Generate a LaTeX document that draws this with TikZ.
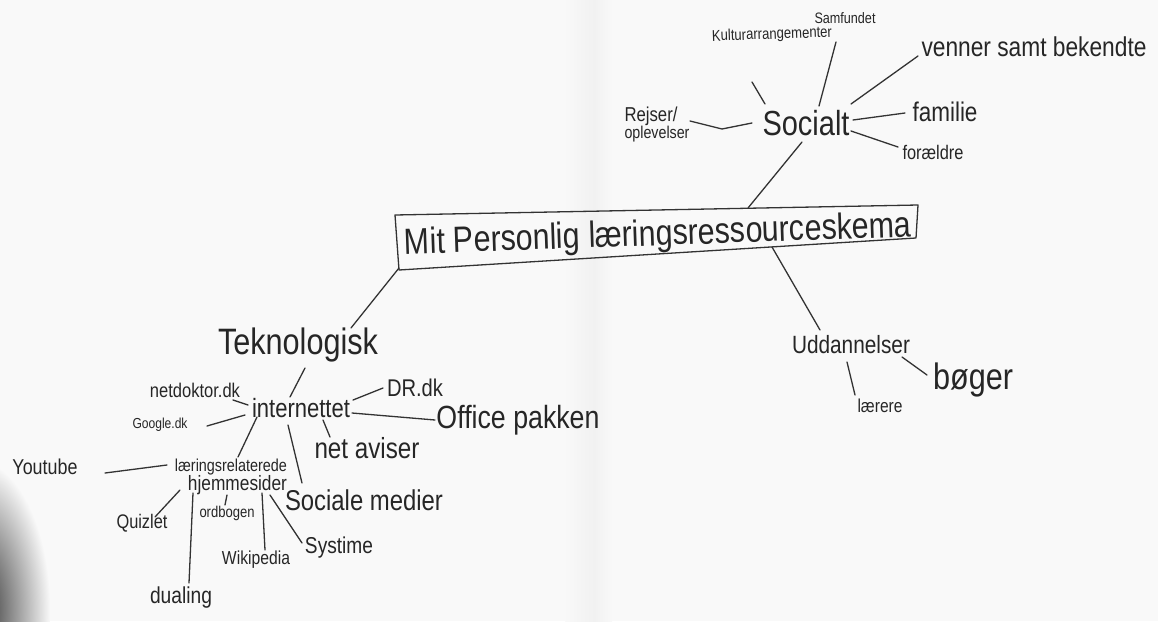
\documentclass[tikz,border=0pt]{standalone}
\usepackage{fontspec}
\setmainfont{Liberation Sans}
\usepackage{graphicx}
\newcommand\fitw[2]{\scalebox{1}[1.2]{\resizebox{#1}{!}{#2}}}
\begin{document}
\begin{tikzpicture}[x=1pt,y=-1pt,
  lbl/.style={inner sep=0pt, text=black!85},
  ln/.style={draw=black!80, line width=1.3pt, line cap=round, line join=round}]
\useasboundingbox (0,0) rectangle (1158,621);
% paper
\fill[gray!5] (0,0) rectangle (1158,621);
\shade[left color=gray!5, right color=gray!11] (565,0) rectangle (594,621);
\shade[left color=gray!11, right color=gray!5] (594,0) rectangle (612,621);
\begin{scope}
\clip (0,0) rectangle (1158,621);
\shade[inner color=black!85, outer color=gray!5] (-25,610) ellipse [x radius=75, y radius=150];
\end{scope}

% title box
\coordinate (bTL) at (395,215);
\coordinate (bTR) at (918,205);
\coordinate (bBR) at (916,238);
\coordinate (bBL) at (399,270);
\draw[ln] (bTL) -- (bTR) -- (bBR) -- (bBL) -- cycle;
\node[lbl, rotate=2] (title) at (658,236) {\fitw{507pt}{Mit Personlig læringsressourceskema}};

% social group
\node[lbl] (soc) at (806,123) {\fitw{87pt}{Socialt}};
\node[lbl, rotate=2] (kult) at (772,35) {\fitw{120pt}{Kulturarrangementer}};
\node[lbl] (samf) at (845,18) {\fitw{61pt}{Samfundet}};
\node[lbl] (venner) at (1034,47) {\fitw{225pt}{venner samt bekendte}};
\node[lbl] (fam) at (945,112) {\fitw{65pt}{familie}};
\node[lbl] (foraeldre) at (933,152) {\fitw{61pt}{forældre}};
\node[lbl, align=left, font=\fontsize{10}{17}\selectfont] (rejser) at (657,124) {\fitw{53pt}{Rejser/}\\\fitw{65pt}{oplevelser}};

\draw[ln] ([shift={(-20,47)}]kult.center) -- ([shift={(-41,-19)}]soc.center);
\draw[ln] ([shift={(-9,24)}]samf.center) -- ([shift={(13,-17)}]soc.center);
\draw[ln] ([shift={(-116,9)}]venner.center) -- ([shift={(45,-19)}]soc.center);
\draw[ln] ([shift={(-40,1)}]fam.center) -- ([shift={(47,-3)}]soc.center);
\draw[ln] ([shift={(-35,-5)}]foraeldre.center) -- ([shift={(45,8)}]soc.center);
\draw[ln] ([shift={(33,-3)}]rejser.center) -- ++(32,8) -- ([shift={(-54,0)}]soc.center);
\draw[ln] ([shift={(-4,19)}]soc.center) -- ([shift={(90,-28)}]title.center);

% technology group
\node[lbl] (tek) at (298,345) {\fitw{160pt}{Teknologisk}};
\node[lbl] (inet) at (301,408) {\fitw{98pt}{internettet}};
\node[lbl] (netdok) at (195,390) {\fitw{90pt}{netdoktor.dk}};
\node[lbl] (google) at (160,425) {\fitw{55pt}{Google.dk}};
\node[lbl] (dr) at (415,388) {\fitw{56pt}{DR.dk}};
\node[lbl] (office) at (518,420) {\fitw{163pt}{Office pakken}};
\node[lbl] (avis) at (367,448) {\fitw{105pt}{net aviser}};
\node[lbl] (socmed) at (364,500) {\fitw{158pt}{Sociale medier}};
\node[lbl, align=right, font=\fontsize{10}{16}\selectfont] (laer) at (231,477) {\fitw{112pt}{læringsrelaterede}\\\fitw{99pt}{hjemmesider}};
\node[lbl] (yt) at (45,467) {\fitw{65pt}{Youtube}};
\node[lbl] (quiz) at (142,523) {\fitw{51pt}{Quizlet}};
\node[lbl] (ord) at (227,513) {\fitw{55pt}{ordbogen}};
\node[lbl] (dual) at (181,598) {\fitw{62pt}{dualing}};
\node[lbl] (wiki) at (256,560) {\fitw{68pt}{Wikipedia}};
\node[lbl] (sys) at (339,548) {\fitw{68pt}{Systime}};

\draw[ln] ([shift={(-259,32)}]title.center) -- ([shift={(53,-17)}]tek.center);
\draw[ln] ([shift={(7,23)}]tek.center) -- ([shift={(-11,-11)}]inet.center);
\draw[ln] ([shift={(38,10)}]netdok.center) -- ([shift={(-53,-3)}]inet.center);
\draw[ln] ([shift={(47,1)}]google.center) -- ([shift={(-56,7)}]inet.center);
\draw[ln] ([shift={(52,-8)}]inet.center) -- ([shift={(-32,0)}]dr.center);
\draw[ln] ([shift={(51,5)}]inet.center) -- ([shift={(-83,0)}]office.center);
\draw[ln] ([shift={(22,12)}]inet.center) -- ([shift={(-37,-11)}]avis.center);
\draw[ln] ([shift={(-13,17)}]inet.center) -- ([shift={(-62,-17)}]socmed.center);
\draw[ln] ([shift={(-44,9)}]inet.center) -- ([shift={(7,-20)}]laer.center);
\draw[ln] ([shift={(60,6)}]yt.center) -- ([shift={(-64,-12)}]laer.center);
\draw[ln] ([shift={(-51,13)}]laer.center) -- ([shift={(13,-6)}]quiz.center);
\draw[ln] ([shift={(-4,18)}]laer.center) -- ([shift={(-2,-8)}]ord.center);
\draw[ln] ([shift={(-38,16)}]laer.center) -- ([shift={(8,-15)}]dual.center);
\draw[ln] ([shift={(31,16)}]laer.center) -- ([shift={(9,-10)}]wiki.center);
\draw[ln] ([shift={(39,18)}]laer.center) -- ([shift={(-37,-5)}]sys.center);

% education group
\node[lbl] (udd) at (851,345) {\fitw{118pt}{Uddannelser}};
\node[lbl] (bog) at (973,380) {\fitw{80pt}{bøger}};
\node[lbl] (laerere) at (880,406) {\fitw{45pt}{lærere}};
\draw[ln] ([shift={(114,11)}]title.center) -- ([shift={(-31,-15)}]udd.center);
\draw[ln] ([shift={(51,12)}]udd.center) -- ([shift={(-46,-5)}]bog.center);
\draw[ln] ([shift={(-4,17)}]udd.center) -- ([shift={(-25,-11)}]laerere.center);
\end{tikzpicture}
\end{document}
